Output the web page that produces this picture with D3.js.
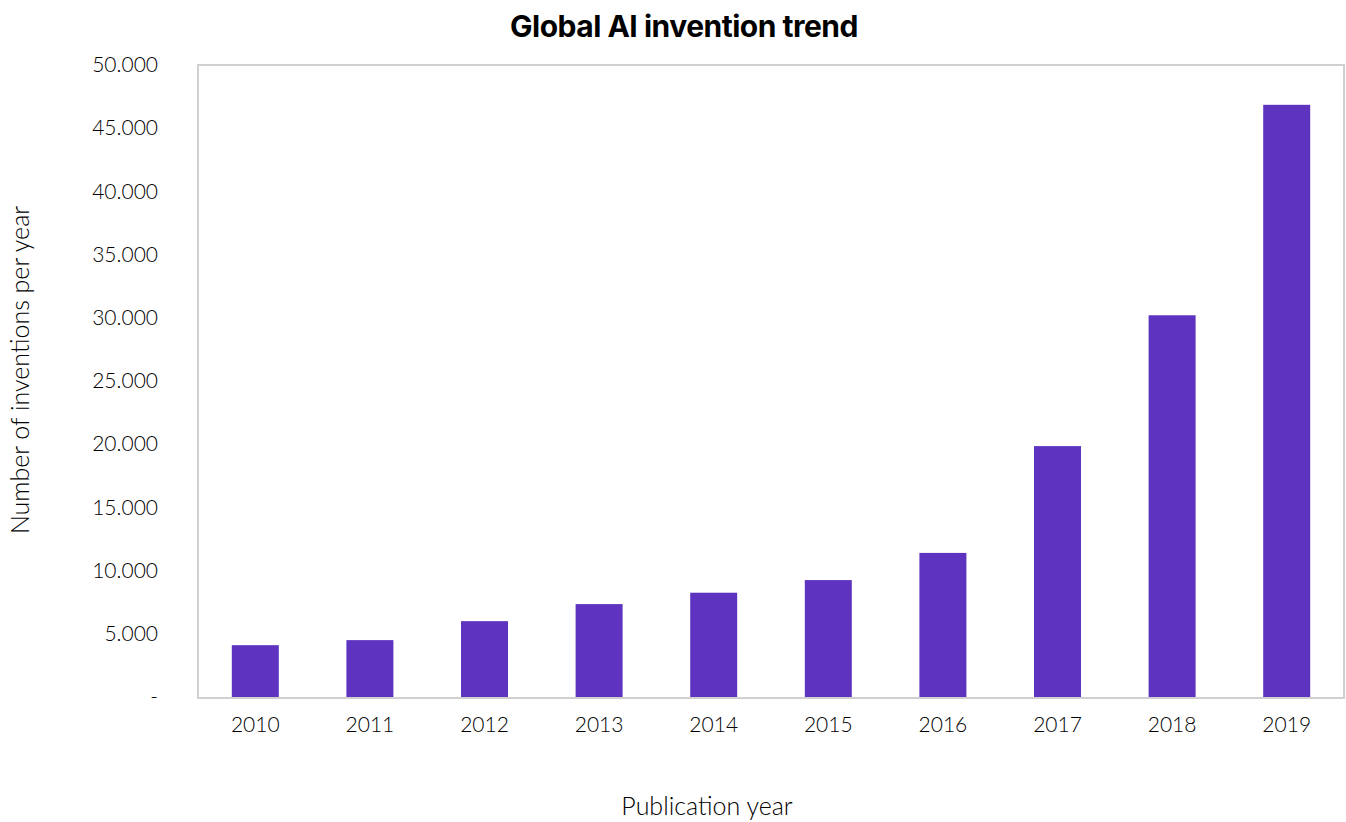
<!DOCTYPE html>
<html>
<head>
<meta charset="utf-8">
<script src="https://cdn.jsdelivr.net/npm/d3@7"></script>
<style>
  html, body { margin: 0; padding: 0; background: #fff; }
  svg { display: block; }
</style>
</head>
<body>
<svg id="chart" width="1346" height="822"></svg>
<script>
// Publication years and AI inventions per year
const years = ["2010", "2011", "2012", "2013", "2014", "2015", "2016", "2017", "2018", "2019"];
const inventions = [4100, 4500, 6000, 7350, 8250, 9250, 11400, 19850, 30200, 46850];
const yTicks = [0, 5000, 10000, 15000, 20000, 25000, 30000, 35000, 40000, 45000, 50000];

const svg = d3.select("#chart");
const W = 1346, H = 822;
const m = { top: 65, right: 2, bottom: 125, left: 198 };
const iw = W - m.left - m.right, ih = H - m.top - m.bottom;

const x = d3.scaleBand().domain(years).range([0, iw]).paddingInner(0.59).paddingOuter(0.295);
const y = d3.scaleLinear().domain([0, 50000]).range([ih, 0]);

const g = svg.append("g").attr("transform", `translate(${m.left},${m.top})`);

const fmt = v => v === 0 ? "-" : d3.format(",")(v).replace(/,/g, ".");
const labelFont = "Lato, 'Open Sans', sans-serif";

// bars
g.selectAll("rect.bar").data(years).join("rect")
  .attr("class", "bar")
  .attr("x", d => x(d))
  .attr("width", x.bandwidth())
  .attr("y", (d, i) => y(inventions[i]))
  .attr("height", (d, i) => y(0) - y(inventions[i]))
  .attr("fill", "#5e33bf");

// plot frame
g.append("rect")
  .attr("x", 0).attr("y", 0).attr("width", iw).attr("height", ih + 1)
  .attr("fill", "none").attr("stroke", "#d0d0d0").attr("stroke-width", 2);

// y axis labels
const yAxis = d3.axisLeft(y).tickValues(yTicks).tickFormat(fmt).tickSize(0).tickPadding(40);
const ya = g.append("g").call(yAxis);
ya.select(".domain").remove();
ya.selectAll("text")
  .attr("font-family", labelFont).attr("font-weight", 300)
  .attr("font-size", 21).attr("fill", "#000");

// x axis labels
const xAxis = d3.axisBottom(x).tickSize(0).tickPadding(20);
const xa = g.append("g").attr("transform", `translate(0,${ih})`).call(xAxis);
xa.select(".domain").remove();
xa.selectAll("text")
  .attr("font-family", labelFont).attr("font-weight", 300)
  .attr("font-size", 21).attr("fill", "#000");

// title
svg.append("text")
  .attr("x", 684).attr("y", 37).attr("text-anchor", "middle")
  .attr("font-family", "Inter, Lato, sans-serif").attr("font-weight", 700)
  .attr("font-size", 30).attr("letter-spacing", -0.5).attr("fill", "#000")
  .text("Global AI invention trend");

// axis titles
svg.append("text")
  .attr("x", 707).attr("y", 815).attr("text-anchor", "middle")
  .attr("font-family", labelFont).attr("font-weight", 300)
  .attr("font-size", 25).attr("fill", "#000")
  .text("Publication year");

svg.append("text")
  .attr("transform", "translate(29,370) rotate(-90)")
  .attr("text-anchor", "middle")
  .attr("font-family", labelFont).attr("font-weight", 300)
  .attr("font-size", 25).attr("fill", "#000")
  .text("Number of inventions per year");
</script>
</body>
</html>
